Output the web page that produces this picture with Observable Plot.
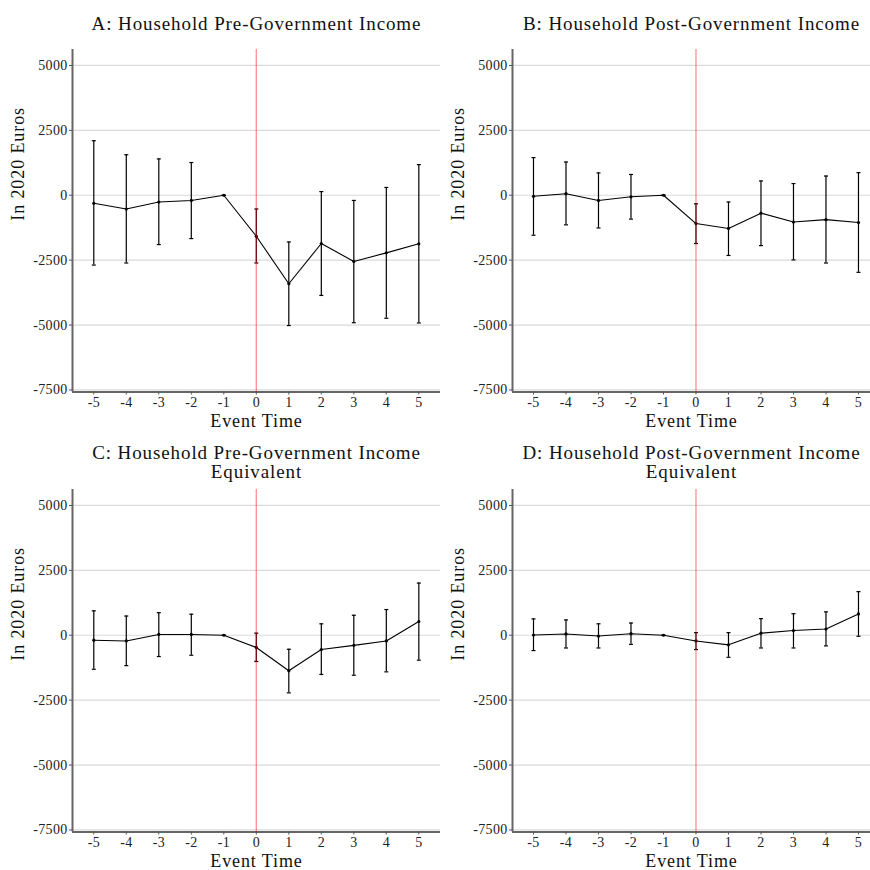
<!DOCTYPE html>
<html>
<head>
<meta charset="utf-8">
<script src="https://cdn.jsdelivr.net/npm/d3@7"></script>
<script src="https://cdn.jsdelivr.net/npm/@observablehq/plot@0.6"></script>
<style>
  html, body { margin: 0; padding: 0; background: #fff; }
  #grid { display: grid; grid-template-columns: 440px 430px; grid-template-rows: 440px 430px; width: 870px; height: 870px; }
  #grid svg { display: block; }
  #grid svg text { font-family: "Liberation Serif", "Times New Roman", serif !important; }
  #grid svg .panel-title text, #grid svg .axis-title text { letter-spacing: 0.9px; }
  #grid svg .tick-labels text { letter-spacing: 0.3px; }
</style>
</head>
<body>
<div id="grid"></div>
<script>
// Event-study estimates (2020 euros) with 95% confidence bounds, relative to event time -1
const eventTime = [-5, -4, -3, -2, -1, 0, 1, 2, 3, 4, 5];

const preGovEst = [-310, -530, -260, -200, 0, -1580, -3410, -1860, -2550, -2220, -1870];
const preGovLo  = [-2690, -2610, -1900, -1670, 0, -2610, -5020, -3860, -4910, -4740, -4920];
const preGovHi  = [2100, 1560, 1400, 1260, 0, -530, -1800, 140, -200, 300, 1180];

const postGovEst = [-40, 60, -200, -60, 0, -1090, -1280, -690, -1030, -940, -1050];
const postGovLo  = [-1540, -1140, -1260, -920, 0, -1860, -2320, -1940, -2490, -2610, -2970];
const postGovHi  = [1450, 1280, 860, 800, 0, -330, -260, 550, 450, 740, 870];

const preGovEqEst = [-190, -220, 30, 30, 0, -470, -1370, -550, -390, -220, 530];
const preGovEqLo  = [-1310, -1170, -820, -770, 0, -1010, -2220, -1510, -1540, -1410, -960];
const preGovEqHi  = [940, 740, 870, 810, 0, 80, -540, 440, 770, 990, 2010];

const postGovEqEst = [10, 50, -30, 60, 0, -220, -370, 80, 180, 240, 820];
const postGovEqLo  = [-590, -490, -490, -350, 0, -550, -850, -490, -490, -410, -40];
const postGovEqHi  = [630, 590, 440, 470, 0, 100, 100, 640, 830, 900, 1680];

const yTicks = [-7500, -5000, -2500, 0, 2500, 5000];

const panelTitles = [
  "A: Household Pre-Government Income",
  "B: Household Post-Government Income",
  "C: Household Pre-Government Income\nEquivalent",
  "D: Household Post-Government Income\nEquivalent"
];
const xLabel = "Event Time";
const yLabel = "In 2020 Euros";

const panels = [
  {title: panelTitles[0], est: preGovEst, lo: preGovLo, hi: preGovHi},
  {title: panelTitles[1], est: postGovEst, lo: postGovLo, hi: postGovHi},
  {title: panelTitles[2], est: preGovEqEst, lo: preGovEqLo, hi: preGovEqHi},
  {title: panelTitles[3], est: postGovEqEst, lo: postGovEqLo, hi: postGovEqHi}
];

// Short horizontal cap drawn at each end of a confidence interval
const capSymbol = {
  draw(context) {
    context.moveTo(-2, 0);
    context.lineTo(2, 0);
  }
};

const font = "'Liberation Serif', 'Times New Roman', serif";
const yDomain = [-7580, 5615];

function panel(p, i) {
  const left = i % 2 === 0;
  const top = i < 2;
  const width = left ? 440 : 430;
  const height = top ? 440 : 430;
  const xDomain = left ? [-5.655, 5.667] : [-5.646, 5.37];
  const rows = eventTime.map((t, k) => ({t, est: p.est[k], lo: p.lo[k], hi: p.hi[k]}));
  const twoLine = p.title.includes("\n");

  return Plot.plot({
    width, height,
    marginLeft: 72, marginRight: 0, marginTop: 49, marginBottom: height - 391.5,
    style: {fontFamily: font, background: "#fff", color: "#111", overflow: "visible"},
    x: {domain: xDomain, axis: null},
    y: {domain: yDomain, axis: null},
    marks: [
      Plot.gridY(yTicks, {stroke: "#dadada", strokeOpacity: 1, strokeWidth: 1.2}),
      Plot.ruleX([xDomain[0]], {stroke: "#666", strokeWidth: 2}),
      Plot.ruleY([yDomain[0]], {stroke: "#666", strokeWidth: 2}),
      Plot.axisY(yTicks, {
        className: "tick-labels",
        tickSize: 3, tickPadding: 2, stroke: "#555", fill: "#222",
        fontSize: 14, fontFamily: font, tickFormat: d => String(d), label: null
      }),
      Plot.axisX(eventTime, {
        className: "tick-labels",
        tickSize: 3, tickPadding: 2, stroke: "#555", fill: "#222",
        fontSize: 14, fontFamily: font, tickFormat: d => String(d), label: null
      }),
      Plot.ruleX(rows, {x: "t", y1: "lo", y2: "hi", stroke: "#000", strokeWidth: 1.2}),
      Plot.dot(rows, {x: "t", y: "lo", symbol: capSymbol, stroke: "#000", strokeWidth: 1.2, fill: "none"}),
      Plot.dot(rows, {x: "t", y: "hi", symbol: capSymbol, stroke: "#000", strokeWidth: 1.2, fill: "none"}),
      Plot.line(rows, {x: "t", y: "est", stroke: "#000", strokeWidth: 1.1}),
      Plot.dot(rows, {x: "t", y: "est", r: 1.6, fill: "#000"}),
      Plot.ruleX([0], {stroke: "#ff0000", strokeOpacity: 0.45, strokeWidth: 1.3}),
      Plot.text([p.title], {
        className: "panel-title",
        frameAnchor: "top", lineAnchor: "bottom", dy: twoLine ? -12 : -20,
        fontSize: 19, fontFamily: font, lineHeight: 1.0, fill: "#111"
      }),
      Plot.text([xLabel], {
        className: "axis-title",
        frameAnchor: "bottom", lineAnchor: "bottom", dy: 35, fontSize: 18, fontFamily: font, fill: "#111"
      }),
      Plot.text([yLabel], {
        className: "axis-title",
        frameAnchor: "left", dx: -54, rotate: -90, fontSize: 18, fontFamily: font, fill: "#111"
      })
    ]
  });
}

const grid = document.getElementById("grid");
panels.forEach((p, i) => grid.appendChild(panel(p, i)));
</script>
</body>
</html>
